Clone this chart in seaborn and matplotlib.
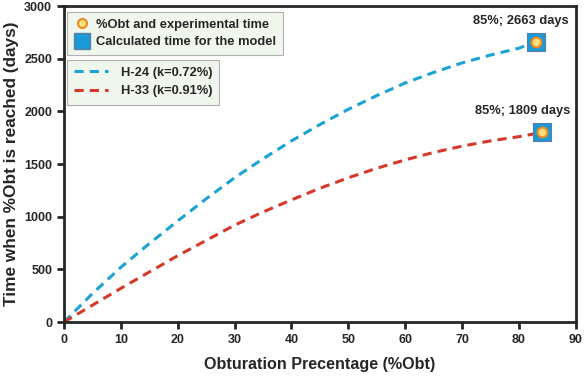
import pandas as pd
import matplotlib.pyplot as plt
import seaborn as sns
from matplotlib.lines import Line2D

# values
obt = [0, 5, 10, 15, 20, 25, 30, 35, 40, 45, 50, 55, 60, 65, 70, 75, 80, 83]
h24 = [0, 270, 520, 745, 960, 1170, 1370, 1550, 1720, 1875, 2020, 2150, 2270,
       2370, 2460, 2535, 2600, 2663]
h33 = [0, 160, 320, 475, 630, 775, 920, 1045, 1160, 1270, 1370, 1460, 1540,
       1610, 1670, 1720, 1760, 1790]

end_x = [83, 84]
end_y = [2663, 1809]
end_labels = ['85%; 2663 days', '85%; 1809 days']

sns.set_style('ticks')
plt.rcParams['font.family'] = ['Liberation Sans', 'DejaVu Sans']
plt.rcParams['font.weight'] = 'bold'

blue = '#1ba3d3'
red = '#d8382a'
dash = (0, (3, 2))

df = pd.DataFrame({'obt': obt + obt,
                   'days': h24 + h33,
                   'series': ['H-24 (k=0.72%)'] * len(obt) + ['H-33 (k=0.91%)'] * len(obt)})

fig = plt.figure(figsize=(5.87, 3.78), dpi=100)
ax = fig.add_axes([0.109, 0.148, 0.872, 0.836])

sns.lineplot(data=df, x='obt', y='days', hue='series', palette=[blue, red],
             linestyle=dash, linewidth=2.2, legend=False, ax=ax)

ends = pd.DataFrame({'x': end_x, 'y': end_y})
sns.scatterplot(data=ends, x='x', y='y', marker='s', s=150, color='#1a9ad6',
                edgecolor='#5a7fa0', linewidth=0.8, ax=ax, zorder=4)
sns.scatterplot(data=ends, x='x', y='y', marker='o', s=50, color='#fde07a',
                edgecolor='#f08a20', linewidth=1.5, ax=ax, zorder=5)

# labels sit up and to the left of the markers
for xx, yy, lab, dx in zip(end_x, end_y, end_labels, [-11, -14]):
    ax.annotate(lab, (xx, yy), xytext=(dx, 15), textcoords='offset points',
                ha='center', va='center', fontsize=9.3, fontweight='bold')

ax.set_xlim(0, 90)
ax.set_ylim(0, 3000)
ax.set_xticks(range(0, 91, 10))
ax.set_yticks(range(0, 3001, 500))
ax.set_xlabel('Obturation Precentage (%Obt)', fontsize=11.6, fontweight='bold', labelpad=8)
ax.set_ylabel('Time when %Obt is reached (days)', fontsize=12.4, fontweight='bold', labelpad=4)
ax.tick_params(width=2, length=5, labelsize=9)
for sp in ax.spines.values():
    sp.set_linewidth(2)
    sp.set_visible(True)

box = dict(frameon=True, fancybox=False, facecolor='#eff7ed', edgecolor='#b0b0b0',
           framealpha=1, fontsize=9.3, borderaxespad=0, borderpad=0.55)

h1 = [Line2D([], [], marker='o', linestyle='none', markersize=6.5, markerfacecolor='#fde07a',
             markeredgecolor='#f08a20', markeredgewidth=1.5),
      Line2D([], [], marker='s', linestyle='none', markersize=12, markerfacecolor='#1a9ad6',
             markeredgecolor='#5a7fa0')]
leg1 = ax.legend(h1, ['%Obt and experimental time', 'Calculated time for the model'],
                 loc='upper left', bbox_to_anchor=(0.006, 0.982),
                 handlelength=1.2, handletextpad=0.5, labelspacing=0.4, **box)
leg1.get_frame().set_linewidth(0.8)
ax.add_artist(leg1)

h2 = [Line2D([], [], color=blue, linestyle=dash, linewidth=2.2),
      Line2D([], [], color=red, linestyle=dash, linewidth=2.2)]
leg2 = ax.legend(h2, ['H-24 (k=0.72%)', 'H-33 (k=0.91%)'],
                 loc='upper left', bbox_to_anchor=(0.006, 0.83),
                 handlelength=2.6, handletextpad=1.0, labelspacing=0.5, **box)
leg2.get_frame().set_linewidth(0.8)

fig.savefig('out.png', dpi=100)
